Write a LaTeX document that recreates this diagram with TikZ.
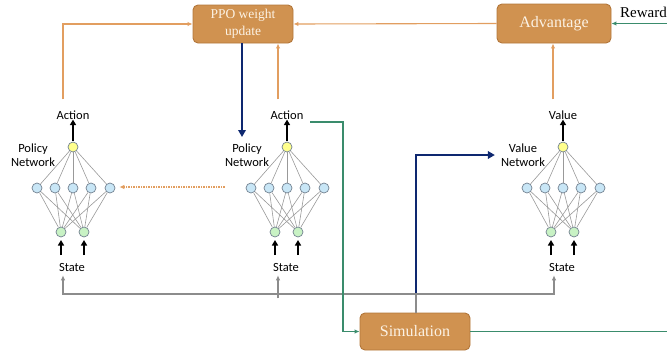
\documentclass[tikz,border=0pt]{standalone}
\usepackage{fontspec}
\setmainfont{Liberation Serif}
\newfontfamily\lblfont{Carlito}
\usetikzlibrary{arrows.meta,calc}
\definecolor{boxfill}{RGB}{208,146,80}
\definecolor{boxdraw}{RGB}{178,118,58}
\definecolor{boxtext}{RGB}{252,242,228}
\definecolor{orline}{RGB}{226,158,96}
\definecolor{grline}{RGB}{58,140,108}
\definecolor{navy}{RGB}{14,40,112}
\definecolor{gyline}{RGB}{140,140,140}
\definecolor{hidfill}{RGB}{200,230,246}
\definecolor{outfill}{RGB}{255,255,140}
\definecolor{infill}{RGB}{200,242,196}
\definecolor{nodedraw}{RGB}{115,130,145}
\tikzset{
  box/.style={draw=boxdraw, line width=0.9pt, fill=boxfill, rounded corners=5pt, text=boxtext, align=center, inner sep=0pt},
  neuron/.style={circle, draw=nodedraw, line width=0.7pt, minimum size=10pt, inner sep=0pt},
  hid/.style={neuron, fill=hidfill},
  outn/.style={neuron, fill=outfill},
  inn/.style={neuron, fill=infill},
  wire/.style={draw=black!40, line width=0.6pt},
  lbl/.style={font=\lblfont\fontsize{12.5}{13.5}\selectfont, text=black, inner sep=0pt, align=center},
  barrow/.style={line width=1.8pt, -{Triangle[length=5.5pt,width=6pt]}},
  orarrow/.style={draw=orline, line width=1.1pt, -{Latex[length=5pt,width=4.5pt]}},
  grarrow/.style={draw=grline, line width=1.1pt, -{Latex[length=5pt,width=4.5pt]}},
  gyarrow/.style={draw=gyline, line width=1.3pt, -{Latex[length=5pt,width=4.5pt]}},
  navyarrow/.style={draw=navy, line width=2.4pt, -{Triangle[length=7pt,width=7.5pt]}}
}
\newcommand\drawnet[5]{% #1 prefix, #2 cx, #3 top label, #4 label line1, #5 label line2
  \node[outn] (#1o) at (#2,147) {};
  \foreach \k/\dx in {1/-36,2/-18,3/0,4/18,5/37}{
    \node[hid] (#1h\k) at ({#2+\dx},188) {};
  }
  \foreach \k/\dx in {1/-12,2/11}{
    \node[inn] (#1i\k) at ({#2+\dx},232) {};
  }
  \foreach \k in {1,...,5}{
    \draw[wire] (#1h\k) -- (#1o);
    \draw[wire] (#1i1) -- (#1h\k);
    \draw[wire] (#1i2) -- (#1h\k);
  }
  \node[lbl] (#1a) at (#2,115) {#3};
  \node[lbl] (#1s) at ({#2-1},267) {State};
  \node[lbl] (#1l) at ({#2-40},155) {#4\\#5};
  \draw[barrow] (#1o.north) ++(0,-1) -- (#1a.south);
}
\begin{document}
\begin{tikzpicture}[x=1pt,y=-1pt]
\useasboundingbox (0,0) rectangle (667,354);
\drawnet{n1}{73}{Action}{Policy}{Network}
\drawnet{n2}{287}{Action}{Policy}{Network}
\drawnet{n3}{563}{Value}{Value}{Network}
% input arrows
\foreach \n in {n1,n2,n3}{
  \foreach \k in {1,2}{
    \draw[barrow] ($(\n i\k)+(0,23)$) -- ($(\n i\k)+(0,8)$);
  }
}
% boxes
\node[box, minimum width=100pt, minimum height=38pt, font=\fontsize{13.5}{17}\selectfont] (ppo) at (243,24) {PPO weight\\update};
\node[box, minimum width=114pt, minimum height=39pt, font=\fontsize{16}{18}\selectfont] (adv) at (554,23.5) {Advantage};
\node[box, minimum width=110pt, minimum height=37pt, font=\fontsize{16}{18}\selectfont] (sim) at (415,331.5) {Simulation};
\node[anchor=west, inner sep=0pt, font=\fontsize{15}{17}\selectfont] (rew) at (620,12) {Reward};
% orange connectors
\coordinate (o1) at ($(n1a.north)+(-10,-11)$);
\draw[orarrow] (o1) |- (ppo.west);
\coordinate (o2) at ($(n2a.north)+(-9,-11)$);
\draw[orarrow] (o2) -- (o2 |- ppo.south);
\coordinate (o3) at ($(n3a.north)+(-10,-11)$);
\draw[orarrow] (o3) -- (o3 |- adv.south);
\draw[orarrow] (adv.west) -- (ppo.east);
\draw[orarrow, dash pattern=on 1.5pt off 1pt, line width=1.2pt] ($(n2h1.west)+(-21,-1)$) -- ($(n1h5.east)+(4,-1)$);
% navy connectors
\draw[navyarrow] (ppo.south -| 242,0) -- (242,137);
\coordinate (j) at (416,294);
\draw[navyarrow] (j) |- ($(n3l.west)+(-6,0)$);
% gray state lines
\draw[draw=gyline, line width=1.3pt] (sim.north -| j) -- (j);
\draw[gyarrow] (j) -| ($(n1s.south)+(-9,4)$);
\draw[gyarrow] ($(n2s.south)+(-8,27)$) -- ($(n2s.south)+(-8,4)$);
\draw[gyarrow] (j) -| ($(n3s.south)+(-8,4)$);
% green connectors
\coordinate (g1) at (310,122);
\draw[grarrow] (g1) -- (343,122) |- (sim.west);
\coordinate (g2) at (667,331.5);
\draw[draw=grline, line width=1.1pt] (sim.east) -- (g2);
\coordinate (g3) at (667,23.5);
\draw[grarrow] (g3) -- (adv.east);
\end{tikzpicture}
\end{document}
